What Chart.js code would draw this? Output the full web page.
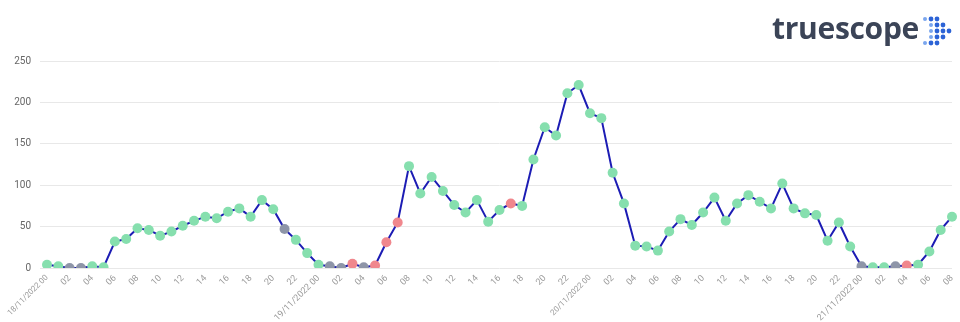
<!DOCTYPE html>
<html>
<head>
<meta charset="utf-8">
<script src="https://cdn.jsdelivr.net/npm/chart.js@4.4.1/dist/chart.umd.min.js"></script>
<style>
  html, body { margin: 0; padding: 0; background: #ffffff; }
  #wrap { position: relative; width: 960px; height: 322px; overflow: hidden; }
  #c { position: absolute; left: 0; top: 0; }
  #logo { position: absolute; left: 772px; top: 10px; font-family: "Open Sans", sans-serif; font-weight: 700;
          font-size: 30px; color: #3b4457; letter-spacing: -0.3px; line-height: 36px; }
  #icon { position: absolute; left: 921px; top: 16px; }
</style>
</head>
<body>
<div id="wrap">
  <canvas id="c" width="960" height="322"></canvas>
  <div id="logo">truescope</div>
  <svg id="icon" width="32" height="32" viewBox="0 0 32 32">
    <circle cx="4" cy="3" r="2" fill="#7aa6ee"/>
    <circle cx="10" cy="3" r="2.4" fill="#2c63d6"/>
    <circle cx="16" cy="3" r="2.4" fill="#2c63d6"/>
    <circle cx="10" cy="9" r="2" fill="#7aa6ee"/>
    <circle cx="16" cy="9" r="2.4" fill="#2c63d6"/>
    <circle cx="22" cy="9" r="2.4" fill="#2c63d6"/>
    <circle cx="10" cy="15" r="2" fill="#7aa6ee"/>
    <circle cx="16" cy="15" r="2.4" fill="#2c63d6"/>
    <circle cx="22" cy="15" r="2.4" fill="#2c63d6"/>
    <circle cx="28" cy="15" r="2.4" fill="#2c63d6"/>
    <circle cx="10" cy="21" r="2" fill="#7aa6ee"/>
    <circle cx="16" cy="21" r="2.4" fill="#2c63d6"/>
    <circle cx="22" cy="21" r="2.4" fill="#2c63d6"/>
    <circle cx="4" cy="27" r="2" fill="#7aa6ee"/>
    <circle cx="10" cy="27" r="2.4" fill="#2c63d6"/>
    <circle cx="16" cy="27" r="2.4" fill="#2c63d6"/>
  </svg>
</div>
<script>
// ---- data ----
const days = ['18/11/2022', '19/11/2022', '20/11/2022', '21/11/2022'];
const hoursPerDay = [24, 24, 24, 9];

const mentions18 = [4, 2, 0, 0, 2, 1, 32, 35, 48, 46, 39, 44, 51, 57, 62, 60, 68, 72, 62, 82, 71, 47, 34, 18];
const mentions19 = [4, 2, 0, 5, 1, 3, 31, 55, 123, 90, 110, 93, 76, 67, 82, 56, 70, 78, 75, 131, 170, 160, 211, 221];
const mentions20 = [187, 181, 115, 78, 27, 26, 21, 44, 59, 52, 67, 85, 57, 78, 88, 80, 72, 102, 72, 66, 64, 33, 55, 26];
const mentions21 = [2, 1, 1, 2, 3, 4, 20, 46, 62];

// sentiment per hour: p = positive, n = neutral, x = negative
const tone18 = ['p','p','n','n','p','p','p','p','p','p','p','p','p','p','p','p','p','p','p','p','p','n','p','p'];
const tone19 = ['p','n','n','x','n','x','x','x','p','p','p','p','p','p','p','p','p','x','p','p','p','p','p','p'];
const tone20 = ['p','p','p','p','p','p','p','p','p','p','p','p','p','p','p','p','p','p','p','p','p','p','p','p'];
const tone21 = ['n','p','p','n','x','p','p','p','p'];

const yTicks = [0, 50, 100, 150, 200, 250];

// ---- build ----
const toneColors = { p: '#86dfae', n: '#8e95a8', x: '#f0878d' };
const labels = [];
const tickText = [];
days.forEach((d, di) => {
  for (let h = 0; h < hoursPerDay[di]; h++) {
    const hh = String(h).padStart(2, '0');
    labels.push(d + ' ' + hh);
    tickText.push(h % 2 === 0 ? (h === 0 ? d + ' ' + hh : hh) : null);
  }
});
const values = [].concat(mentions18, mentions19, mentions20, mentions21);
const tones = [].concat(tone18, tone19, tone20, tone21);
const pointColors = tones.map(t => toneColors[t]);

new Chart(document.getElementById('c'), {
  type: 'line',
  data: {
    labels: labels,
    datasets: [{
      data: values,
      borderColor: '#1c1cb4',
      borderWidth: 2,
      tension: 0,
      pointRadius: 5,
      pointHoverRadius: 5,
      pointBorderWidth: 0,
      pointBackgroundColor: pointColors,
      pointBorderColor: pointColors,
      fill: false
    }]
  },
  options: {
    responsive: false,
    animation: false,
    events: [],
    layout: { padding: { top: 61, right: 8, left: 0, bottom: 0 } },
    plugins: { legend: { display: false }, tooltip: { enabled: false } },
    scales: {
      x: {
        offset: false,
        grid: { display: false, drawTicks: false },
        border: { display: false },
        ticks: {
          autoSkip: false,
          maxRotation: 45,
          minRotation: 45,
          color: '#9a9a9a',
          font: (ctx) => ({ family: 'Roboto, "Open Sans", sans-serif',
                            size: (tickText[ctx.index] && tickText[ctx.index].length > 2) ? 8 : 9 }),
          padding: 5,
          callback: (v, i) => tickText[i]
        },
        afterFit: (s) => { s.height = 54; s.paddingLeft = 0; s.paddingRight = 0; }
      },
      y: {
        min: 0,
        max: 250,
        afterBuildTicks: (s) => { s.ticks = yTicks.map(v => ({ value: v })); },
        grid: { color: '#e8e8e8', lineWidth: 1, tickLength: 7 },
        border: { display: false },
        ticks: {
          color: '#666666',
          font: { family: 'Roboto, "Open Sans", sans-serif', size: 10 },
          padding: 9
        },
        afterFit: (s) => { s.width = 47; s.paddingTop = 0; s.paddingBottom = 0; }
      }
    }
  }
});
</script>
</body>
</html>
